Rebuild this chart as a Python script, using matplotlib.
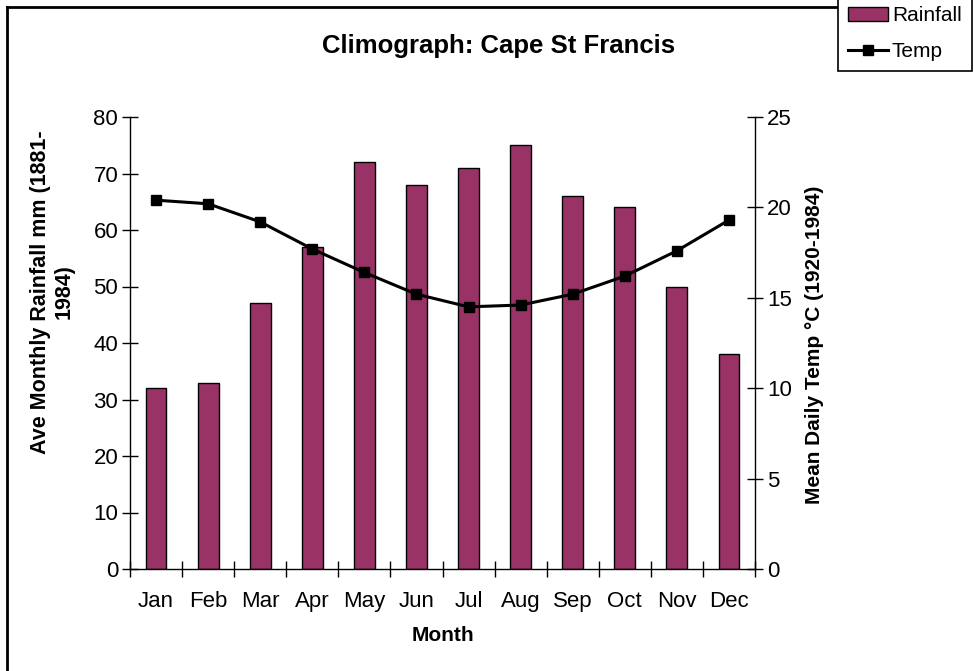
import numpy as np
import matplotlib
matplotlib.use("Agg")
from matplotlib import pyplot as plt
from matplotlib.lines import Line2D

plt.rcParams['font.family'] = ['Liberation Sans', 'DejaVu Sans']

months = ["Jan", "Feb", "Mar", "Apr", "May", "Jun",
          "Jul", "Aug", "Sep", "Oct", "Nov", "Dec"]
rainfall = [32, 33, 47, 57, 72, 68, 71, 75, 66, 64, 50, 38]
temp = [20.4, 20.2, 19.2, 17.7, 16.4, 15.2, 14.5, 14.6, 15.2, 16.2, 17.6, 19.3]

fig = plt.figure(figsize=(9.74, 6.71), dpi=100)
W, H = 974.0, 671.0
ax = fig.add_axes([130 / W, 1 - 569 / H, 625 / W, 452 / H])
ax2 = ax.twinx()

x = np.arange(len(months))
bars = ax.bar(x, rainfall, width=0.4, color="#993366", edgecolor="black",
              linewidth=1.0, label="Rainfall", zorder=2)
line, = ax2.plot(x, temp, color="black", linewidth=2.2, marker="s",
                 markersize=6.5, label="Temp", zorder=3)

ax.set_xlim(-0.5, 11.5)
ax.set_ylim(0, 80)
ax2.set_ylim(0, 25)
ax.set_yticks(range(0, 81, 10))
ax2.set_yticks(range(0, 26, 5))

# ticks between categories, labels at centres
ax.set_xticks(np.arange(-0.5, 12, 1))
ax.set_xticklabels([])
ax.set_xticks(x, minor=True)
ax.set_xticklabels(months, minor=True, fontsize=16)
ax.tick_params(axis="x", which="major", direction="inout", length=12, width=1)
ax.tick_params(axis="x", which="minor", length=0, pad=16)
ax.tick_params(axis="y", direction="inout", length=11, width=1, labelsize=16, pad=3)
ax2.tick_params(axis="y", direction="inout", length=11, width=1, labelsize=16, pad=3)

for a in (ax, ax2):
    a.spines["top"].set_visible(False)
    for s in ("left", "right", "bottom"):
        a.spines[s].set_linewidth(1.0)
ax2.spines["left"].set_visible(False)
ax2.spines["bottom"].set_visible(False)
ax.spines["right"].set_visible(False)

# line axis drawn above the bars
ax.set_zorder(1)
ax2.set_zorder(2)
ax2.patch.set_visible(False)

ax.set_xlabel("Month", fontsize=15, fontweight="bold", labelpad=10)
fig.text(52 / W, 1 - 292 / H, "Ave Monthly Rainfall mm (1881-\n1984)", rotation=90,
         fontsize=15.5, fontweight="bold", ha="center", va="center",
         multialignment="center", linespacing=1.15)
fig.text(815 / W, 1 - 345 / H, "Mean Daily Temp °C (1920-1984)", rotation=90,
         fontsize=15, fontweight="bold", ha="center", va="center")

fig.text(499 / W, 1 - 46 / H, "Climograph: Cape St Francis", fontsize=18.5,
         fontweight="bold", ha="center", va="center")

# chart border
fig.add_artist(Line2D([7 / W, 844 / W], [1 - 7 / H, 1 - 7 / H],
                      color="black", linewidth=2, transform=fig.transFigure))
fig.add_artist(Line2D([7 / W, 7 / W], [1 - 7 / H, 0], color="black",
                      linewidth=2, transform=fig.transFigure))

leg = fig.legend([bars, line], ["Rainfall", "Temp"], loc="upper right",
                 bbox_to_anchor=(972 / W, 1 + 4 / H), fontsize=15, frameon=True,
                 fancybox=False, edgecolor="black", framealpha=1,
                 handlelength=1.9, handleheight=0.65, borderpad=0.5,
                 labelspacing=0.8, handletextpad=0.2, borderaxespad=0)
leg.get_frame().set_linewidth(1.2)

fig.savefig("out.png", dpi=100)
